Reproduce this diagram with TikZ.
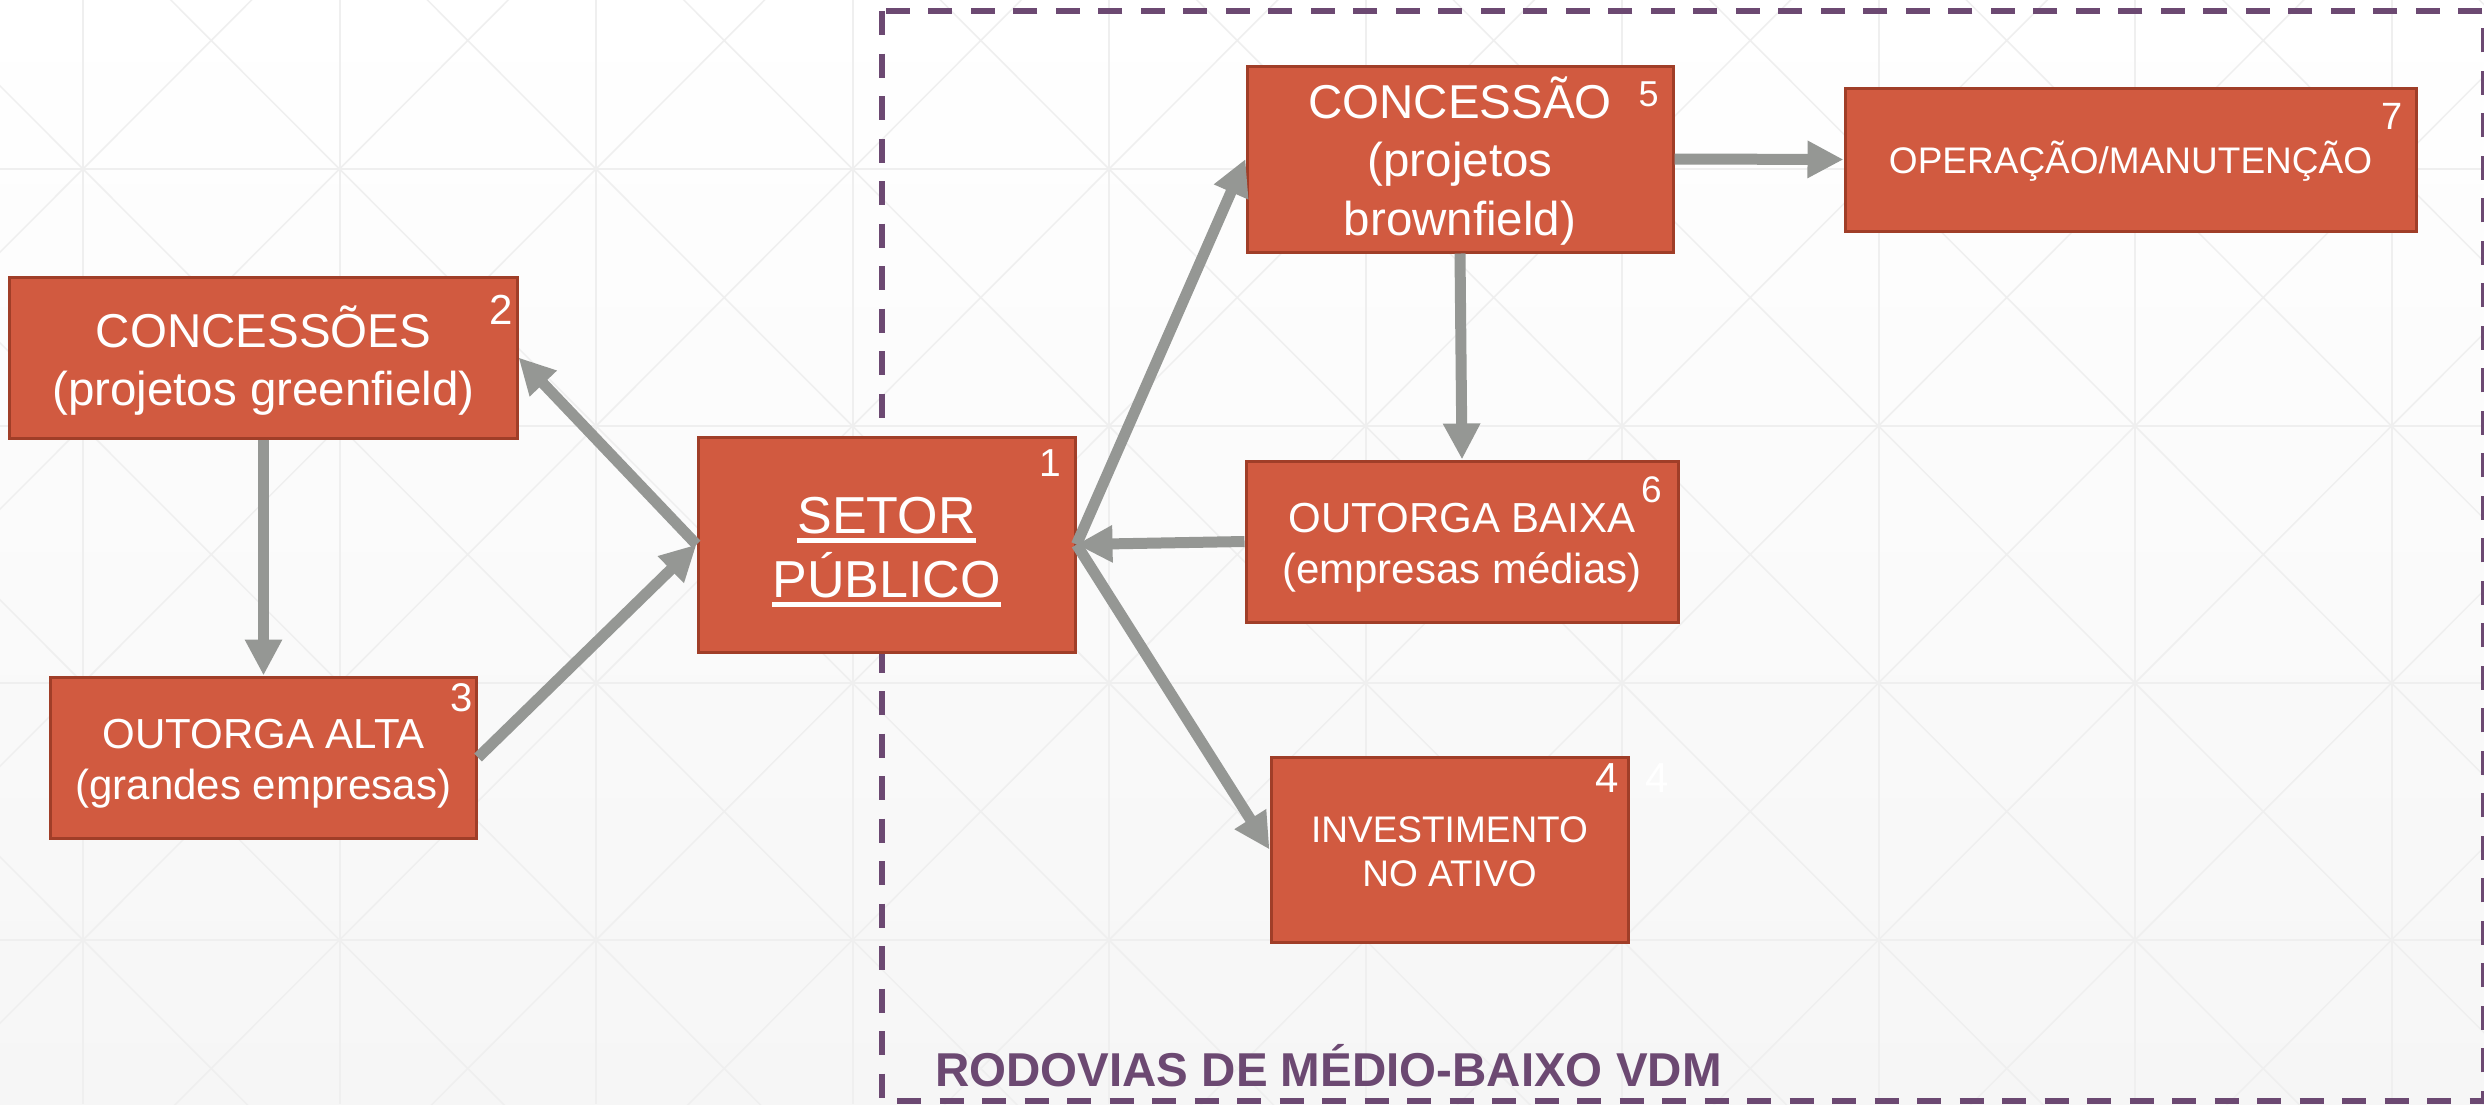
\documentclass[tikz,border=0pt]{standalone}
\usepackage{fontspec}
\setmainfont{Liberation Sans}
\usetikzlibrary{arrows.meta}
\definecolor{boxfill}{RGB}{209,90,64}
\definecolor{boxline}{RGB}{160,62,40}
\definecolor{arrowgray}{RGB}{149,151,148}
\definecolor{framepurple}{RGB}{108,73,114}
\definecolor{gridgray}{RGB}{239,239,239}
\definecolor{bgbottom}{RGB}{246,246,246}
\newcommand{\myul}[1]{\setbox0\hbox{#1}\dimen0=\wd0\rlap{\vrule width\dimen0 height -5bp depth 9.5bp}\box0}
\begin{document}
\begin{tikzpicture}[x=1bp,y=-1bp,
  box/.style={draw=boxline, line width=3bp, fill=boxfill, text=white, align=center, inner sep=0pt},
  num/.style={text=white, inner sep=0pt},
  arr/.style={draw=arrowgray, line width=11bp, -{Triangle[length=36bp,width=35bp]}}]
\useasboundingbox (0,0) rectangle (2484,1104);
\shade[top color=white, bottom color=bgbottom] (0,0) rectangle (2484,1104);
\begin{scope}
  \clip (0,0) rectangle (2484,1104);
  \foreach \i in {-1,...,9}{
    \foreach \j in {-1,...,3}{
      \draw[gridgray, line width=1.5bp] (83+256.5*\i,169+257*\j) -- (83+256.5*\i+256.5,169+257*\j+257)
        (83+256.5*\i,169+257*\j+257) -- (83+256.5*\i+256.5,169+257*\j);
    }
  }
  \foreach \i in {-1,...,10}{\draw[gridgray, line width=2bp] (83+256.5*\i,0) -- (83+256.5*\i,1104);}
  \foreach \j in {-1,...,4}{\draw[gridgray, line width=2bp] (0,169+257*\j) -- (2484,169+257*\j);}
  \draw[framepurple, line width=5.5bp, dash pattern=on 24bp off 18.5bp] (882,11) rectangle (2483.5,1101);
\end{scope}

\node[box, minimum width=377bp, minimum height=215bp, font={\fontsize{52bp}{64bp}\selectfont}, text height=110bp, text depth=5bp] (b1) at (886.5,544.5) {\myul{SETOR}\\\myul{PÚBLICO}};
\node[box, minimum width=507bp, minimum height=161bp, font={\fontsize{47.5bp}{58bp}\selectfont}, text height=105bp, text depth=10bp] (b2) at (263.5,357.5) {CONCESSÕES\\(projetos greenfield)};
\node[box, minimum width=426bp, minimum height=161bp, font={\fontsize{42bp}{51bp}\selectfont}, text height=93bp, text depth=10bp] (b3) at (263.5,757.5) {OUTORGA ALTA\\(grandes empresas)};
\node[box, minimum width=357bp, minimum height=185bp, font={\fontsize{37bp}{44bp}\selectfont}, text height=83bp, text depth=10bp] (b4) at (1449.5,849.5) {INVESTIMENTO\\NO ATIVO};
\node[box, minimum width=426bp, minimum height=186bp, font={\fontsize{47.5bp}{58.5bp}\selectfont}, text height=162bp, text depth=10bp] (b5) at (1460,159) {CONCESSÃO\\(projetos\\brownfield)};
\node[box, minimum width=432bp, minimum height=161bp, font={\fontsize{42bp}{51bp}\selectfont}, text height=93bp, text depth=10bp] (b6) at (1462,541.5) {OUTORGA BAIXA\\(empresas médias)};
\node[box, minimum width=571bp, minimum height=143bp, font={\fontsize{37bp}{44bp}\selectfont}, text height=37bp, text depth=10bp] (b7) at (2130.5,159.5) {OPERAÇÃO/MANUTENÇÃO};

\node[num, font={\fontsize{39bp}{44bp}\selectfont}] (n1) at (1050,463) {1};
\node[num, font={\fontsize{42bp}{48bp}\selectfont}] (n2) at (501,310) {2};
\node[num, font={\fontsize{40bp}{46bp}\selectfont}] (n3) at (461.5,697.5) {3};
\node[num, font={\fontsize{42bp}{48bp}\selectfont}] (n4) at (1607.5,778) {4};
\node[num, font={\fontsize{42bp}{48bp}\selectfont}] (n4b) at (1657.5,778) {4};
\node[num, font={\fontsize{36bp}{42bp}\selectfont}] (n5) at (1648.5,94.5) {5};
\node[num, font={\fontsize{37bp}{42bp}\selectfont}] (n6) at (1651.5,490) {6};
\node[num, font={\fontsize{38bp}{44bp}\selectfont}] (n7) at (2392.5,116.5) {7};

\node[anchor=base west, inner sep=0pt, text=framepurple, font={\bfseries\fontsize{47.5bp}{57bp}\selectfont}] (lbl) at (935,1086) {RODOVIAS DE MÉDIO-BAIXO VDM};

\draw[arr] (b2.south) -- (b3.north);
\draw[arr] (b3.east) -- (b1.west);
\draw[arr] (b1.west) -- (b2.east);
\draw[arr] (b1.east) -- (b5.west);
\draw[arr] (b6.west) -- (b1.east);
\draw[arr] (b1.east) -- (b4.west);
\draw[arr] (b5.south) -- (b6.north);
\draw[arr] (b5.east) -- (b7.west);
\end{tikzpicture}
\end{document}
